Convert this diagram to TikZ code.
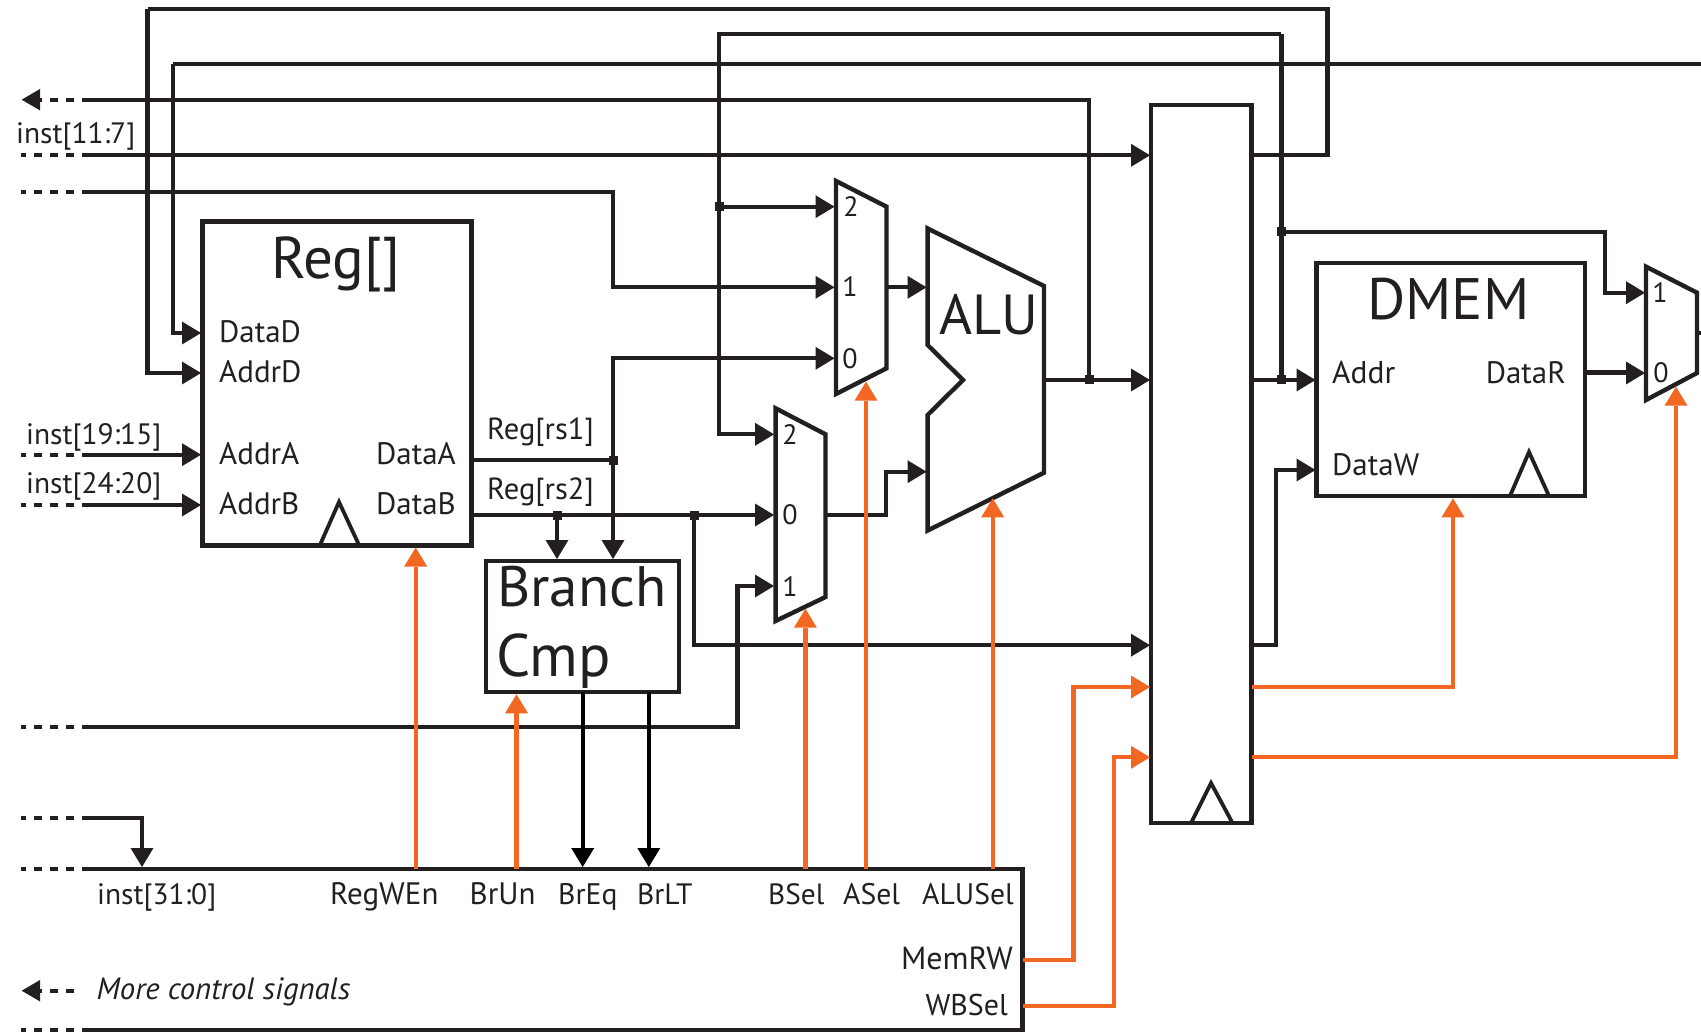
\documentclass[tikz,border=0pt]{standalone}
\usepackage{fontspec}
\setmainfont{PT Sans}
\usetikzlibrary{arrows.meta}
\definecolor{ink}{HTML}{231F20}
\definecolor{ctrl}{HTML}{F26722}
\tikzset{
  x=1pt,y=-1pt,
  wire/.style={draw=ink,line width=4.3pt,line join=miter},
  thinwire/.style={draw=black,line width=3.8pt},
  ctrlwire/.style={draw=ctrl,line width=4.2pt,line join=miter},
  tip/.style={-{Triangle[length=19pt,width=23pt,line width=0pt]}},
  dots/.style={draw=ink,line width=4.3pt,dash pattern=on 8pt off 8pt},
  block/.style={draw=ink,line width=4.5pt,rectangle,inner sep=0pt,outer sep=0pt},
  outline/.style={draw=ink,line width=4.4pt,line join=miter},
  clock/.style={draw=ink,line width=3.8pt,line join=miter},
  junction/.style={fill=ink,rectangle,minimum width=9pt,minimum height=9pt,inner sep=0pt,outer sep=0pt},
  lab/.style={text=ink,inner sep=0pt,font=\fontsize{#1}{30}\selectfont},
  lab/.default=30.5,
  big/.style={text=ink,inner sep=0pt,font=\fontsize{#1}{60}\selectfont},
  big/.default=57,
  pin/.style={text=ink,inner sep=0pt,font=\fontsize{28}{30}\selectfont,anchor=center},
}
\begin{document}
\begin{tikzpicture}
\useasboundingbox (0,0) rectangle (1701,1032);
% blocks
\node[block,minimum width=268.8pt,minimum height=323.6pt] (reg) at (337.1,383.5) {};
\node[block,minimum width=193pt,minimum height=131pt] (cmp) at (582.5,626.5) {};
\node[block,minimum width=100.5pt,minimum height=718pt] (pipe) at (1201.25,464) {};
\node[block,minimum width=268.4pt,minimum height=233pt] (dmem) at (1450.8,379.5) {};
% control
\coordinate (ctlTL) at (82,869); \coordinate (ctlTR) at (1022.5,869);
\coordinate (ctlBR) at (1022.5,1030); \coordinate (ctlBL) at (82,1030);
\draw[outline] (ctlTL) -- (ctlTR) -- (ctlBR) -- (ctlBL);
% muxes and ALU
\draw[outline] (836,181) -- (886.5,206.7) -- (886.5,368.3) -- (836,394) -- cycle;
\draw[outline] (775.6,408.3) -- (825.5,434.3) -- (825.5,597) -- (775.6,621) -- cycle;
\draw[outline] (1646,266.7) -- (1697,292.7) -- (1697,373) -- (1646,400) -- cycle;
\draw[outline] (927.6,228.5) -- (1044,286) -- (1044,472.7) -- (927.6,530.5) -- (927.6,415) -- (963,380) -- (927.6,345) -- cycle;
% clock triangles
\draw[clock] (320,545) -- (339,502) -- (359,545);
\draw[clock] (1510,496) -- (1529,452) -- (1549,496);
\draw[clock] (1191,823) -- (1211,783) -- (1232.5,823);
% junctions
\node[junction] (jPC) at (719,206.7) {};
\node[junction] (jA) at (613,460) {};
\node[junction] (jB) at (557,515) {};
\node[junction] (jC) at (694,515) {};
\node[junction] (jALU) at (1089,380) {};
\node[junction] (jM) at (1281.4,380) {};
\node[junction] (jW) at (1281.4,232) {};
% free ends on the left
\foreach \n/\y in {a/99.7,b/155.3,c/191.7,d/454.7,e/505,f/727.2,g/817.8,h/869,i/1030,j/990.7}{
  \coordinate (s\n) at (82,\y);
  \coordinate (m\n) at (74,\y);
  \coordinate (l\n) at (21,\y);
}
\foreach \n in {b,c,d,e,f,g,h,i}{ \draw[dots] (m\n) -- (l\n); }
\coordinate (ma2) at (74,99.7); \coordinate (ta) at (40,99.7); \coordinate (ja2) at (74,990.7); \coordinate (tj) at (40,990.7);
\draw[dots] (ma2) -- (ta);
\draw[dots] (ja2) -- (tj);
\fill[ink] (21.7,99.7) -- (40,89) -- (40,110.4) -- cycle;
\fill[ink] (21.7,990.7) -- (40,980) -- (40,1001.4) -- cycle;
% ports
\coordinate (pDataD) at (201,333); \coordinate (pAddrD) at (201,373);
\coordinate (pAddrA) at (201,454.7); \coordinate (pAddrB) at (201,505);
\coordinate (pDataA) at (471.5,460); \coordinate (pDataB) at (471.5,515);
\coordinate (m2) at (834.5,206.7); \coordinate (m1) at (834.5,287.3); \coordinate (m0) at (834.5,358.3);
\coordinate (n2) at (774,434.3); \coordinate (n0) at (774,515); \coordinate (n1) at (774,586);
\coordinate (w1) at (1645,292.7); \coordinate (w0) at (1645,373);
\coordinate (aluA) at (926.5,287.3); \coordinate (aluB) at (926.5,471.7);
\coordinate (aluO) at (1044,380);
\coordinate (mAo) at (886,287.3); \coordinate (mBo) at (825.5,515);
\coordinate (pipeI1) at (1150,155.3); \coordinate (pipeI2) at (1150,380); \coordinate (pipeI3) at (1150,645.2);
\coordinate (pipeI4) at (1150,687); \coordinate (pipeI5) at (1150,757.3);
\coordinate (pipeO1) at (1251.5,155.3); \coordinate (pipeO2) at (1251.5,380); \coordinate (pipeO3) at (1251.5,645.2);
\coordinate (pipeO4) at (1251.5,687); \coordinate (pipeO5) at (1251.5,757.3);
\coordinate (dAddr) at (1315.5,380); \coordinate (dDataW) at (1315.5,470); \coordinate (dDataR) at (1585,373);
\coordinate (wout) at (1697,333); \coordinate (wend) at (1701,333);
\coordinate (rtop) at (1327.5,8.7); \coordinate (ltop) at (147.5,8.7);
\coordinate (ltop2) at (147.5,373);
\coordinate (lD) at (173,64.3); \coordinate (rD) at (1701,64.3);
\coordinate (pcL) at (719,34); \coordinate (pcR) at (1281.4,34);
\coordinate (pOut) at (1089,99.7);
\coordinate (cCmpA) at (613,559); \coordinate (cCmpB) at (557,559);
\coordinate (cEq) at (582.7,692); \coordinate (cEqE) at (582.7,867);
\coordinate (cLt) at (648.8,692); \coordinate (cLtE) at (648.8,867);
\coordinate (iTop) at (142,867);
% black wires
\draw[wire] (sa) -- (pOut) -- (jALU.center);
\draw[wire,tip] (sb) -- (pipeI1);
\draw[wire,tip] (sc) -- (613,191.7) -- (613,287.3) -- (m1);
\draw[wire,tip] (sd) -- (pAddrA);
\draw[wire,tip] (se) -- (pAddrB);
\draw[wire,tip] (sf) -- (737.6,727.2) -- (737.6,586) -- (n1);
\draw[wire,tip] (sg) -- (142,817.8) -- (iTop);
\draw[wire] (pipeO1) -- (1327.5,155.3) -- (rtop) -- (ltop);
\draw[wire,tip] (ltop) -- (ltop2) -- (pAddrD);
\draw[wire] (rD) -- (lD);
\draw[wire,tip] (lD) -- (173,333) -- (pDataD);
\draw[wire] (pcR) -- (pcL) -- (jPC.center);
\draw[wire,tip] (jPC.center) -- (719,434.3) -- (n2);
\draw[wire,tip] (jPC.center) -- (m2);
\draw[wire] (pcR) -- (jM.center);
\draw[wire,tip] (jW.center) -- (1605,232) -- (1605,292.7) -- (w1);
\draw[wire] (pDataA) -- (jA.center);
\draw[wire,tip] (jA.center) -- (613,358.3) -- (m0);
\draw[wire,tip] (jA.center) -- (cCmpA);
\draw[wire,tip] (pDataB) -- (n0);
\draw[wire,tip] (jB.center) -- (cCmpB);
\draw[wire,tip] (jC.center) -- (694,645.2) -- (pipeI3);
\draw[wire,tip] (mAo) -- (aluA);
\draw[wire,tip] (mBo) -- (886,515) -- (886,471.7) -- (aluB);
\draw[wire,tip] (aluO) -- (pipeI2);
\draw[wire,tip] (pipeO2) -- (dAddr);
\draw[wire,tip] (pipeO3) -- (1276,645.2) -- (1276,470) -- (dDataW);
\draw[wire,line width=5pt,tip] (dDataR) -- (w0);
\draw[wire] (wout) -- (wend);
\draw[thinwire,tip] (cEq) -- (cEqE);
\draw[thinwire,tip] (cLt) -- (cLtE);
% control wires
\coordinate (oReg) at (415.7,869); \coordinate (tReg) at (415.7,547.5);
\coordinate (oUn) at (516.5,869); \coordinate (tUn) at (516.5,694.3);
\coordinate (oB) at (805.4,869); \coordinate (tB) at (805.4,608.7);
\coordinate (oA) at (866,869); \coordinate (tA) at (866,381.7);
\coordinate (oAL) at (992.7,869); \coordinate (tAL) at (992.7,498.3);
\coordinate (oM) at (1022.5,960); \coordinate (oW) at (1022.5,1006);
\coordinate (tMem) at (1453,498.3); \coordinate (tWB) at (1676,386.7);
\draw[ctrlwire,tip] (oReg) -- (tReg);
\draw[ctrlwire,tip] (oUn) -- (tUn);
\draw[ctrlwire,tip] (oB) -- (tB);
\draw[ctrlwire,tip] (oA) -- (tA);
\draw[ctrlwire,tip] (oAL) -- (tAL);
\draw[ctrlwire,tip] (oM) -- (1073.5,960) -- (1073.5,687) -- (pipeI4);
\draw[ctrlwire,tip] (oW) -- (1114,1006) -- (1114,757.3) -- (pipeI5);
\draw[ctrlwire,tip] (pipeO4) -- (1453,687) -- (tMem);
\draw[ctrlwire,tip] (pipeO5) -- (1676,757.3) -- (tWB);
% big labels
\node[big=59,anchor=base west] (tReg1) at (271,279) {Reg[]};
\node[big=56.5,anchor=base west] (tAlu) at (939,335) {ALU};
\node[big=58.5,anchor=base west] (tDmem) at (1367,320) {DMEM};
\node[big=57,anchor=base west] (tBr) at (497,606) {Branch};
\node[big=60,anchor=base west] (tCmp) at (496,676) {Cmp};
% small labels
\node[lab=29.5,anchor=base west] (t1) at (16,144) {inst[11:7]};
\node[lab=29.5,anchor=base west] (t2) at (26,444) {inst[19:15]};
\node[lab=29.5,anchor=base west] (t3) at (26,493) {inst[24:20]};
\node[lab=31,anchor=base west] (t4) at (219,343) {DataD};
\node[lab=31,anchor=base west] (t5) at (219,383) {AddrD};
\node[lab=31,anchor=base west] (t6) at (219,464) {AddrA};
\node[lab=31,anchor=base west] (t7) at (219,514) {AddrB};
\node[lab=31,anchor=base east] (t8) at (456,464) {DataA};
\node[lab=31,anchor=base east] (t9) at (456,514) {DataB};
\node[lab=30.5,anchor=base west] (t10) at (487,439) {Reg[rs1]};
\node[lab=30.5,anchor=base west] (t11) at (487,499) {Reg[rs2]};
\node[lab=31.5,anchor=base west] (t12) at (1332,384) {Addr};
\node[lab=31,anchor=base east] (t13) at (1566,384) {DataR};
\node[lab=31,anchor=base west] (t14) at (1332,475) {DataW};
\node[pin] (a2) at (851,207) {2};
\node[pin] (a1) at (850,287) {1};
\node[pin] (a0) at (850,359) {0};
\node[pin] (b2) at (790,435) {2};
\node[pin] (b0) at (790,515) {0};
\node[pin] (b1) at (790,587) {1};
\node[pin] (c1) at (1660,293) {1};
\node[pin] (c0) at (1661,373) {0};
\node[lab=29.5,anchor=base west] (t15) at (97,904) {inst[31:0]};
\node[lab=31,anchor=base west] (t16) at (330,904) {RegWEn};
\node[lab=31,anchor=base west] (t17) at (469.5,904) {BrUn};
\node[lab=29.7,anchor=base west] (t18) at (558,904) {BrEq};
\node[lab=29.5,anchor=base west] (t19) at (637,904) {BrLT};
\node[lab=29.3,anchor=base west] (t20) at (768,904) {BSel};
\node[lab=29.7,anchor=base west] (t21) at (843,904) {ASel};
\node[lab=29.7,anchor=base west] (t22) at (922,904) {ALUSel};
\node[lab=32,anchor=base east] (t23) at (1013,969) {MemRW};
\node[lab=30,anchor=base east] (t24) at (1008,1015) {WBSel};
\node[lab=30.8,anchor=base west] (t25) at (96.5,999) {\itshape More control signals};
\end{tikzpicture}
\end{document}
